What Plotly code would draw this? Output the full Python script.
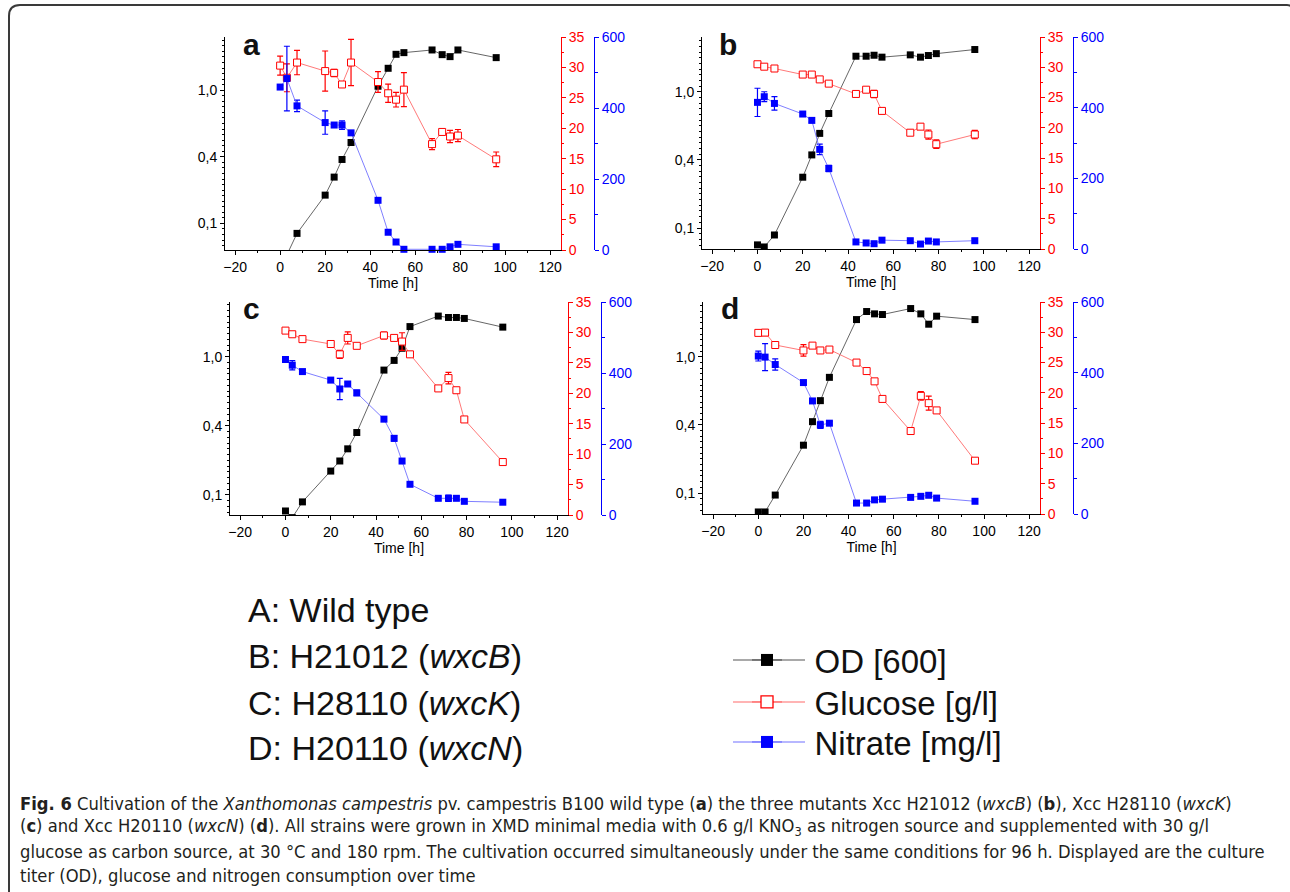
import plotly.graph_objects as go

W, H = 1290, 892

# ---------------- data ----------------
TIME = [0, 3, 7.5, 20, 24, 27.5, 31.5, 43.5, 48, 51.5, 55, 67.5, 72, 75.5, 79, 96]

OD_A = [0.055, 0.058, 0.0841, 0.163, 0.2226, 0.302, 0.405, 1.072, 1.462, 1.862, 1.917, 2.007, 1.851, 1.789, 2.007, 1.758]
OD_B = [0.0752, 0.0726, 0.0889, 0.236, 0.344, 0.495, 0.693, 1.824, 1.824, 1.854, 1.795, 1.866, 1.795, 1.845, 1.905, 2.042]
OD_C = [0.0764, 0.0684, 0.0889, 0.1486, 0.1758, 0.2153, 0.2825, 0.800, 0.940, 1.151, 1.652, 1.968, 1.923, 1.923, 1.892, 1.637]
OD_D = [0.0726, 0.0726, 0.0966, 0.2244, 0.334, 0.4764, 0.7063, 1.875, 2.148, 2.065, 2.042, 2.259, 2.065, 1.734, 1.986, 1.875]

GLC_A = [30.3, 28.3, 30.8, 29.4, 29.1, 27.2, 30.8, 27.6, 25.75, 24.7, 26.35, 17.4, 19.4, 18.65, 18.8, 14.9]
GLC_B = [30.5, 30.1, 29.8, 28.8, 28.8, 28.0, 27.3, 25.6, 26.3, 25.6, 22.8, 19.2, 20.2, 18.9, 17.3, 18.9]
GLC_C = [30.3, 29.7, 28.9, 28.1, 26.4, 29.1, 27.8, 29.5, 29.1, 28.5, 26.4, 20.8, 22.5, 20.5, 15.7, 8.7]
GLC_D = [29.9, 29.95, 27.9, 27.0, 27.8, 27.0, 27.15, 25.0, 23.6, 21.9, 19.0, 13.7, 19.5, 18.3, 17.1, 8.8]

GLC_ERR_A = [1.55, 2.3, 2.0, 3.3, 0.6, 0.35, 3.8, 1.7, 1.5, 1.2, 2.8, 0.9, 0.3, 1.0, 1.0, 1.2]
GLC_ERR_B = [0.3, 0.3, 0.3, 0.3, 0.3, 0.3, 0.3, 0.3, 0.3, 0.6, 0.3, 0.4, 0.4, 0.75, 0.7, 0.7]
GLC_ERR_C = [0.3, 0.3, 0.3, 0.3, 0.65, 1.0, 0.3, 0.55, 0.3, 1.45, 0.3, 0.3, 0.95, 0.3, 0.3, 0.3]
GLC_ERR_D = [0.3, 0.5, 0.3, 0.95, 0.3, 0.3, 0.3, 0.3, 0.3, 0.3, 0.3, 0.3, 0.7, 1.15, 0.3, 0.3]

NIT_A = [459, 483, 406, 359, 352, 352, 330, 140, 50, 22.5, 2, 2, 2, 9, 16, 9]
NIT_B = [415, 431, 412, 382, 364, 282, 228, 20, 17, 15, 25, 23.5, 14, 22.5, 20, 23.5]
NIT_C = [438, 422, 404, 380, 355, 369, 344, 270, 216, 152, 86.5, 47, 47, 47, 38.5, 36]
NIT_D = [447, 444, 423, 372, 320, 252, 257, 31, 31, 40, 42, 47, 50, 53, 45, 36]

NIT_ERR_A = [5, 91, 16, 33, 5, 12, 5, 5, 5, 5, 0, 0, 0, 0, 0, 0]
NIT_ERR_B = [40, 14, 19, 5, 5, 15, 9, 5, 5, 5, 5, 5, 5, 5, 5, 5]
NIT_ERR_C = [5, 13, 5, 5, 30, 5, 8, 5, 8, 5, 5, 5, 9, 5, 5, 5]
NIT_ERR_D = [14, 38, 16, 5, 5, 10, 5, 5, 5, 5, 5, 5, 5, 5, 5, 5]

PANEL_LABELS = ["a", "b", "c", "d"]
OD_TICKVALS = [0.1, 10 ** -0.5, 1.0]
OD_TICKTEXT = ["0,1", "0,4", "1,0"]
SERIES_NAMES = ["OD [600]", "Glucose [g/l]", "Nitrate [mg/l]"]
STRAINS = ["A: Wild type", "B: H21012 (<i>wxcB</i>)", "C: H28110 (<i>wxcK</i>)", "D: H20110 (<i>wxcN</i>)"]
CAPTION = [
    "<b>Fig. 6</b> Cultivation of the <i>Xanthomonas campestris</i> pv. campestris B100 wild type (<b>a</b>) the three mutants Xcc H21012 (<i>wxcB</i>) (<b>b</b>), Xcc H28110 (<i>wxcK</i>)",
    "(<b>c</b>) and Xcc H20110 (<i>wxcN</i>) (<b>d</b>). All strains were grown in XMD minimal media with 0.6 g/l KNO<sub>3</sub> as nitrogen source and supplemented with 30 g/l",
    "glucose as carbon source, at 30 °C and 180 rpm. The cultivation occurred simultaneously under the same conditions for 96 h. Displayed are the culture",
    "titer (OD), glucose and nitrogen consumption over time",
]

panels = [
    (OD_A, GLC_A, GLC_ERR_A, NIT_A, NIT_ERR_A),
    (OD_B, GLC_B, GLC_ERR_B, NIT_B, NIT_ERR_B),
    (OD_C, GLC_C, GLC_ERR_C, NIT_C, NIT_ERR_C),
    (OD_D, GLC_D, GLC_ERR_D, NIT_D, NIT_ERR_D),
]

# ---------------- layout geometry (pixels) ----------------
GEOM = [
    (225, 561, 37, 250, 594, [-1.2, 0.4]),
    (702, 1040, 37, 249, 1073, [-1.154, 0.402]),
    (230, 568, 302, 515, 601, [-1.146, 0.396]),
    (703, 1040, 302, 514, 1073, [-1.154, 0.402]),
]
LABEL_POS = [(251, 45), (728, 44), (251, 308), (730, 308)]

def fx(px):
    return px / W

def fy(py):
    return 1 - py / H

FONT = "Liberation Sans, Arial, Helvetica, sans-serif"
RED = "#ff0000"
BLUE = "#0000ff"
OD_LINE = "#555555"
GLC_LINE = "#ff6a6a"
NIT_LINE = "#7070ff"

fig = go.Figure()
layout = dict(
    width=W, height=H,
    margin=dict(l=0, r=0, t=0, b=0, pad=0, autoexpand=False),
    paper_bgcolor="white", plot_bgcolor="rgba(0,0,0,0)",
    font=dict(family=FONT, color="black", size=14),
)
annotations = []
shapes = []

minor_log = [10 ** (k / 24) for k in range(-32, 12)]

for i, (od, glc, glc_err, nit, nit_err) in enumerate(panels):
    x0, x1, y0, y1, xb, lr = GEOM[i]
    xn = i + 1
    ya, yr, yb = 3 * i + 1, 3 * i + 2, 3 * i + 3
    xname = "x" if xn == 1 else f"x{xn}"
    yaname = "y" if ya == 1 else f"y{ya}"

    fig.add_trace(go.Scatter(
        x=TIME, y=od, xaxis=xname, yaxis=yaname,
        mode="lines+markers", name=SERIES_NAMES[0], showlegend=False,
        line=dict(color=OD_LINE, width=0.9),
        marker=dict(symbol="square", size=7, color="black"),
    ))
    fig.add_trace(go.Scatter(
        x=TIME, y=glc, xaxis=xname, yaxis=f"y{yr}",
        mode="lines+markers", name=SERIES_NAMES[1], showlegend=False,
        line=dict(color=GLC_LINE, width=0.9),
        marker=dict(symbol="square", size=7, color="white", line=dict(color=RED, width=1)),
        error_y=dict(type="data", array=glc_err, color=RED, thickness=1.2, width=3),
        cliponaxis=False,
    ))
    fig.add_trace(go.Scatter(
        x=TIME, y=nit, xaxis=xname, yaxis=f"y{yb}",
        mode="lines+markers", name=SERIES_NAMES[2], showlegend=False,
        line=dict(color=NIT_LINE, width=0.9),
        marker=dict(symbol="square", size=7, color=BLUE),
        error_y=dict(type="data", array=nit_err, color=BLUE, thickness=1.2, width=3),
        cliponaxis=False,
    ))

    xkey = "xaxis" if xn == 1 else f"xaxis{xn}"
    layout[xkey] = dict(
        domain=[fx(x0), fx(x1)], anchor=yaname,
        range=[-24.5, 124.8], tick0=0, dtick=20,
        ticks="outside", ticklen=4, tickwidth=1, tickcolor="black",
        minor=dict(dtick=10, ticks="outside", ticklen=2, tickcolor="black"),
        showline=True, linecolor="black", linewidth=1,
        showgrid=False, zeroline=False, automargin=False,
        tickfont=dict(size=14, color="black"),
        title=dict(text="Time [h]", font=dict(size=14, color="black"), standoff=0),
    )
    yakey = "yaxis" if ya == 1 else f"yaxis{ya}"
    layout[yakey] = dict(
        domain=[fy(y1), fy(y0)], anchor=xname,
        type="log", range=lr,
        tickmode="array", tickvals=OD_TICKVALS, ticktext=OD_TICKTEXT,
        ticks="outside", ticklen=4, tickwidth=1, tickcolor="black",
        minor=dict(tickmode="array", tickvals=minor_log, ticks="outside", ticklen=2, tickcolor="black"),
        showline=True, linecolor="black", linewidth=1,
        showgrid=False, zeroline=False, automargin=False,
        tickfont=dict(size=14, color="black"),
    )
    layout[f"yaxis{yr}"] = dict(
        overlaying=yaname, anchor=xname, side="right",
        range=[0, 35], tick0=0, dtick=5,
        ticks="outside", ticklen=4, tickwidth=1, tickcolor=RED,
        minor=dict(dtick=2.5, ticks="outside", ticklen=2, tickcolor=RED),
        showline=True, linecolor=RED, linewidth=1,
        showgrid=False, zeroline=False, automargin=False,
        tickfont=dict(size=14, color=RED),
    )
    layout[f"yaxis{yb}"] = dict(
        overlaying=yaname, anchor="free", position=fx(xb), side="right",
        range=[0, 600], tick0=0, dtick=200,
        ticks="outside", ticklen=4, tickwidth=1, tickcolor=BLUE,
        minor=dict(dtick=100, ticks="outside", ticklen=3, tickcolor=BLUE),
        showline=True, linecolor=BLUE, linewidth=1,
        showgrid=False, zeroline=False, automargin=False,
        tickfont=dict(size=14, color=BLUE),
    )
    lx, ly = LABEL_POS[i]
    annotations.append(dict(
        text=f"<b>{PANEL_LABELS[i]}</b>", x=fx(lx), y=fy(ly), xref="paper", yref="paper",
        xanchor="center", yanchor="middle", showarrow=False,
        font=dict(size=30, family=FONT, color="#111111"),
    ))

# legend-only entries (no data), one legend box per row
LEG_ROWS = [660, 702, 742]
LEG_STYLE = [
    (OD_LINE, dict(symbol="square", size=12, color="black")),
    (GLC_LINE, dict(symbol="square", size=12, color="white", line=dict(color=RED, width=1.3))),
    (NIT_LINE, dict(symbol="square", size=12, color=BLUE)),
]
for k, (name, yy, (lc, mk)) in enumerate(zip(SERIES_NAMES, LEG_ROWS, LEG_STYLE)):
    lname = "legend" if k == 0 else f"legend{k + 1}"
    fig.add_trace(go.Scatter(
        x=[None], y=[None], xaxis="x", yaxis="y", mode="lines+markers",
        name="\u00a0\u00a0\u00a0" + name, legend=lname, showlegend=True,
        line=dict(color=lc, width=1.2), marker=mk,
    ))
    layout[lname] = dict(
        x=fx(747), y=fy(yy), xanchor="left", yanchor="middle",
        font=dict(size=33, family=FONT, color="#111111"),
        itemsizing="trace", bgcolor="rgba(0,0,0,0)",
    )
    shapes.append(dict(
        type="line", xref="paper", yref="paper",
        x0=fx(733), x1=fx(805), y0=fy(yy), y1=fy(yy),
        line=dict(color=lc, width=1.2),
    ))

# strain list
STRAIN_Y = [610, 656, 703, 748]
for s, yy in zip(STRAINS, STRAIN_Y):
    annotations.append(dict(
        text=s, x=fx(246), y=fy(yy), xref="paper", yref="paper",
        xanchor="left", yanchor="middle", showarrow=False,
        font=dict(size=34, family=FONT, color="#111111"),
    ))

# caption
CAP_Y = [803, 827, 851, 875]
for c, yy in zip(CAPTION, CAP_Y):
    annotations.append(dict(
        text=c, x=fx(18), y=fy(yy), xref="paper", yref="paper",
        xanchor="left", yanchor="middle", showarrow=False,
        font=dict(size=18.2, family="Liberation Sans Narrow, DejaVu Sans Condensed, Liberation Sans, sans-serif", color="#231f20"),
    ))

# frame
shapes.append(dict(
    type="path", xref="paper", yref="paper",
    path=(f"M {fx(9)},0 L {fx(9)},{fy(16)} Q {fx(9)},{fy(5)} {fx(20)},{fy(5)} "
          f"L {fx(1287)},{fy(5)} Q {fx(1293)},{fy(5)} {fx(1293)},{fy(11)} L {fx(1293)},0"),
    line=dict(color="#3a3a3a", width=2),
))

layout["annotations"] = annotations
layout["shapes"] = shapes

fig.update_layout(**layout)

POST = (
    "var s=document.createElement('style');"
    "s.innerHTML='html,body{margin:0 !important;padding:0 !important;overflow:hidden !important;"
    "width:1290px;height:892px;} .plotly-graph-div{position:absolute !important;top:0;left:0;}';"
    "document.head.appendChild(s);"
)
fig.write_html("out.html", config={"displayModeBar": False}, post_script=POST)
